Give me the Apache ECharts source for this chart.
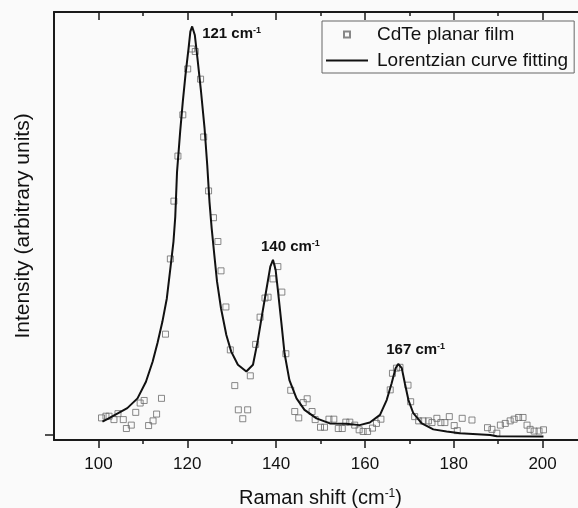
<!DOCTYPE html>
<html><head><meta charset="utf-8">
<script src="https://cdn.jsdelivr.net/npm/echarts@6/dist/echarts.min.js"></script>
<style>html,body{margin:0;padding:0;background:#fafafa}#c{width:578px;height:508px}</style>
</head><body><div id="c"></div>
<script>
// Measured data (Raman shift in cm-1, intensity in arbitrary units)
const scatterX = [121.0,121.8,120.1,123.0,119.0,123.7,117.9,124.8,117.0,125.9,126.9,116.2,127.6,128.7,115.1,129.7,134.2,130.7,131.5,133.6,132.5,110.3,109.4,114.2,113.1,112.3,111.3,108.4,107.4,106.3,105.6,104.4,103.5,102.4,101.7,100.7,
  140.4,139.3,141.3,138.2,137.5,136.4,135.4,142.2,143.3,147.0,146.1,144.2,145.1,148.1,148.8,150.0,150.9,151.9,153.0,154.0,154.9,155.7,156.6,157.7,158.7,
  159.6,160.6,161.7,162.6,163.6,165.7,167.9,166.2,167.1,169.7,170.3,171.2,172.1,173.1,174.3,175.1,176.2,177.1,178.0,179.0,180.1,180.8,181.9,184.1,187.6,188.6,189.7,190.5,191.6,192.7,193.6,194.6,195.6,196.5,197.2,198.1,199.2,200.2];
const scatterY = [90.7,90.1,86.0,83.6,75.2,70.0,65.5,57.3,54.9,51.0,45.4,41.3,38.5,30.0,23.6,19.9,13.8,11.5,5.8,5.8,3.7,8.0,7.4,8.5,4.8,3.2,2.1,5.2,2.2,1.4,3.5,4.9,3.5,4.3,4.3,3.9,
  39.5,36.6,33.5,32.3,32.1,27.6,21.2,19.0,10.4,8.4,7.5,5.4,3.9,5.4,3.5,1.7,1.7,3.6,3.6,1.4,1.4,2.9,2.9,2.2,1.1,
  0.7,0.7,1.5,2.6,3.6,10.5,15.8,14.4,15.6,11.6,7.7,4.2,3.2,3.2,3.2,2.8,3.8,2.8,2.8,4.2,2.1,0.9,3.8,3.4,1.6,1.2,0.3,2.2,2.6,3.2,3.6,4.0,4.0,2.2,1.2,0.8,0.8,1.1];
const fitX = [100.9,102.0,106.5,108.8,110.7,112.2,113.3,114.4,115.4,116.2,116.9,117.3,117.7,118.4,119.0,119.6,120.3,120.7,121.1,121.7,122.3,123.1,123.9,124.5,125.0,125.5,126.1,126.7,127.6,128.8,129.9,131.4,133.3,134.8,135.9,136.9,137.8,138.7,139.3,139.9,140.4,141.2,141.9,143.0,144.6,146.4,149.1,152.1,155.8,158.8,161.1,163.4,164.9,166.0,166.9,167.5,168.3,169.0,169.8,170.9,172.8,175.4,178.4,181.4,188.2,189.7,200.2];
const fitY = [3.0,3.6,6.2,8.5,12.4,17.1,21.5,26.5,32.0,39.1,45.4,51.2,61.8,71.2,78.3,84.6,90.9,94.8,96.0,94.0,88.5,80.7,72.0,63.4,54.8,48.5,42.2,36.0,29.7,23.4,19.5,16.4,14.8,16.4,22.2,28.5,34.0,39.5,41.1,38.7,34.0,26.2,19.1,12.8,8.5,5.8,3.8,2.6,2.5,2.2,2.8,4.6,8.1,12.0,15.6,16.6,15.6,12.0,8.1,5.0,2.6,1.2,0.7,0.3,-0.1,-0.4,-0.5];
const peakLabels = ['121', '140', '167'];
const peakX = [121.1, 139.3, 167.5];
const peakY = [96.0, 41.1, 16.6];
const xMajorTicks = [100, 120, 140, 160, 180, 200];
const xMinorTicks = [110, 130, 150, 170, 190];
const yTicks = [0];
const seriesNames = ['CdTe planar film', 'Lorentzian curve fitting'];
const xTitle = 'Raman shift (cm{s|-1})';
const yTitle = 'Intensity (arbitrary units)';

const FONT = "'Liberation Sans', Arial, sans-serif";
const INK = '#1a1a1a';
const labelOffsets = [[10, 7], [-12, -13], [-12, -14]];
const gridBox = {left: 54, right: -9, top: 12, bottom: 68, outerBoundsMode: 'none', containLabel: false};

function xAxisDef(gridIndex, position, ticks, len, inside, showLine, labels) {
  return {
    type: 'value', min: 90, max: 210, interval: 10, gridIndex: gridIndex, position: position,
    splitLine: {show: false}, minorTick: {show: false},
    axisLine: {show: showLine, onZero: false, lineStyle: {color: INK, width: 2}},
    axisTick: {show: true, inside: inside, length: len, customValues: ticks, lineStyle: {color: INK, width: 1.5}},
    axisLabel: labels ? {show: true, customValues: ticks, margin: 16, fontSize: 17, color: '#111', fontFamily: FONT} : {show: false}
  };
}

const chart = echarts.init(document.getElementById('c'), null, {renderer: 'canvas'});
const xMain = xAxisDef(0, 'bottom', xMajorTicks, 8, false, true, true);
Object.assign(xMain, {
  name: xTitle, nameLocation: 'middle', nameGap: 48,
  nameTextStyle: {fontSize: 20, color: '#111', fontFamily: FONT,
    rich: {s: {fontSize: 12, verticalAlign: 'top', color: '#111', fontFamily: FONT}}}
});
chart.setOption({
  backgroundColor: '#fafafa',
  animation: false,
  textStyle: {fontFamily: FONT},
  grid: [Object.assign({}, gridBox), Object.assign({}, gridBox)],
  legend: {
    orient: 'vertical', left: 322, top: 21,
    padding: [4, 6, 3, 4], itemGap: 7,
    itemWidth: 42, itemHeight: 6, symbolKeepAspect: true,
    borderColor: '#666', borderWidth: 1,
    selectedMode: false,
    textStyle: {fontSize: 19, color: '#111', fontFamily: FONT, padding: [0, 0, 0, 4]},
    data: [
      {name: seriesNames[0], icon: 'path://M0,0L10,0L10,10L0,10Z'},
      {name: seriesNames[1], icon: 'path://M0,0L42,0L42,2L0,2Z'}
    ]
  },
  xAxis: [
    xMain,
    xAxisDef(0, 'top', xMajorTicks, 8, true, true, false),
    xAxisDef(1, 'bottom', xMinorTicks, 4, false, false, false),
    xAxisDef(1, 'top', xMinorTicks, 4, true, false, false)
  ],
  yAxis: [
    {
      type: 'value', min: -1.3, max: 99.4, gridIndex: 0,
      name: yTitle, nameLocation: 'middle', nameGap: 20,
      nameTextStyle: {fontSize: 21, color: '#111', fontFamily: FONT},
      splitLine: {show: false},
      axisLine: {show: true, onZero: false, lineStyle: {color: INK, width: 2}},
      axisTick: {show: true, inside: false, length: 9, customValues: yTicks, lineStyle: {color: INK, width: 1.5}},
      axisLabel: {show: false}
    },
    {type: 'value', min: -1.3, max: 99.4, gridIndex: 1, show: false}
  ],
  series: [
    {
      name: seriesNames[0], type: 'scatter', xAxisIndex: 0, yAxisIndex: 0,
      symbol: 'rect', symbolSize: 6,
      itemStyle: {color: 'rgba(0,0,0,0)', borderColor: '#6a6a6a', borderWidth: 1},
      data: scatterX.map((x, i) => [x, scatterY[i]]),
      z: 2
    },
    {
      name: seriesNames[1], type: 'line', xAxisIndex: 0, yAxisIndex: 0,
      showSymbol: false, symbol: 'none',
      lineStyle: {color: '#111', width: 2},
      itemStyle: {color: '#111'},
      data: fitX.map((x, i) => [x, fitY[i]]),
      z: 3,
      markPoint: {
        symbol: 'circle', symbolSize: 0,
        data: peakLabels.map((t, i) => ({
          coord: [peakX[i], peakY[i]],
          label: {
            show: true, position: labelOffsets[i], align: 'left', verticalAlign: 'middle',
            formatter: '{b|' + t + ' cm}{s|-1}',
            rich: {
              b: {fontSize: 15, fontWeight: 'bold', color: '#111', fontFamily: FONT},
              s: {fontSize: 9, fontWeight: 'bold', color: '#111', verticalAlign: 'top', fontFamily: FONT}
            }
          }
        }))
      }
    }
  ]
});
</script></body></html>
